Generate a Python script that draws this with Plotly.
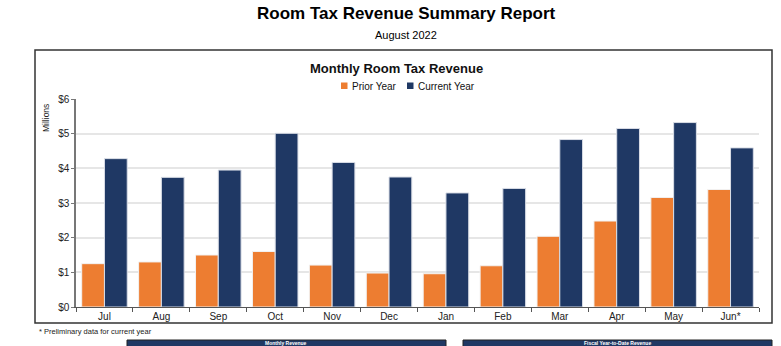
import plotly.graph_objects as go

months = ["Jul", "Aug", "Sep", "Oct", "Nov", "Dec", "Jan", "Feb", "Mar", "Apr", "May", "Jun*"]
prior_year = [1.25, 1.30, 1.50, 1.60, 1.21, 0.98, 0.96, 1.19, 2.04, 2.48, 3.16, 3.39]
current_year = [4.28, 3.74, 3.95, 5.01, 4.17, 3.75, 3.29, 3.42, 4.83, 5.15, 5.32, 4.59]
y_ticks = [0, 1, 2, 3, 4, 5, 6]
y_tick_labels = ["$0", "$1", "$2", "$3", "$4", "$5", "$6"]

ORANGE = "#ED7D31"
NAVY = "#1F3864"
FONT = "Liberation Sans, Arial, sans-serif"
W, H = 781, 346
L, R, T, B = 76, 759, 99, 307

def px(x):
    return (x - L) / (R - L)

def py(y):
    return (B - y) / (B - T)

fig = go.Figure()
fig.add_trace(go.Bar(x=months, y=prior_year, name="Prior Year",
                     marker=dict(color=ORANGE, line=dict(color="#F2F2F2", width=1))))
fig.add_trace(go.Bar(x=months, y=current_year, name="Current Year",
                     marker=dict(color=NAVY, line=dict(color="#D9DDE6", width=1))))

fig.update_layout(
    width=W, height=H,
    margin=dict(l=L, r=W - R, t=T, b=H - B),
    paper_bgcolor="white", plot_bgcolor="white",
    font=dict(family=FONT, color="#222222", size=10),
    barmode="group", bargap=0.2, bargroupgap=0,
    showlegend=False,
    xaxis=dict(showline=True, linecolor="#555555", linewidth=1, ticks="outside",
               tickson="boundaries", ticklen=4, tickcolor="#555555",
               tickfont=dict(size=10, family=FONT, color="#222222"), showgrid=False),
    yaxis=dict(range=[0, 6], tickvals=y_ticks, ticktext=y_tick_labels,
               showline=True, linecolor="#777777", linewidth=1.5, ticks="outside",
               ticklen=3, tickcolor="#777777",
               gridcolor="#E6E6E6", gridwidth=1.5,
               tickfont=dict(size=10, family=FONT, color="#222222"), zeroline=False),
)

shapes = [
    dict(type="rect", xref="paper", yref="paper", x0=px(35), x1=px(772), y0=py(50), y1=py(323),
         line=dict(color="#333333", width=1.5), fillcolor="rgba(0,0,0,0)", layer="below"),
    dict(type="rect", xref="paper", yref="paper", x0=px(127), x1=px(446), y0=py(340), y1=py(360),
         line=dict(color="#222222", width=1), fillcolor=NAVY),
    dict(type="rect", xref="paper", yref="paper", x0=px(463), x1=px(772), y0=py(340), y1=py(360),
         line=dict(color="#222222", width=1), fillcolor=NAVY),
    # legend swatches
    dict(type="rect", xref="paper", yref="paper", x0=px(341), x1=px(347.5), y0=py(89), y1=py(82.5),
         line=dict(width=0), fillcolor=ORANGE),
    dict(type="rect", xref="paper", yref="paper", x0=px(407), x1=px(413.5), y0=py(89), y1=py(82.5),
         line=dict(width=0), fillcolor=NAVY),
]
fig.update_layout(shapes=shapes)

annos = [
    dict(text="<b>Room Tax Revenue Summary Report</b>", x=px(406), y=py(14), font=dict(size=17, color="#000000")),
    dict(text="August 2022", x=px(406), y=py(35), font=dict(size=11, color="#000000")),
    dict(text="<b>Monthly Room Tax Revenue</b>", x=px(396), y=py(68), font=dict(size=13, color="#111111")),
    dict(text="Prior Year", x=px(349.5), y=py(86), xanchor="left", font=dict(size=10, color="#111111")),
    dict(text="Current Year", x=px(415.5), y=py(86), xanchor="left", font=dict(size=10, color="#111111")),
    dict(text="Millions", x=px(46), y=py(118), textangle=-90, font=dict(size=8.5, color="#222222")),
    dict(text="* Preliminary data for current year", x=px(37), y=py(331), xanchor="left",
         font=dict(size=7.5, color="#222222")),
    dict(text="<b>Monthly Revenue</b>", x=px(286), y=py(343), font=dict(size=5, color="white")),
    dict(text="<b>Fiscal Year-to-Date Revenue</b>", x=px(617), y=py(343), font=dict(size=5, color="white")),
]
for a in annos:
    a.setdefault("xanchor", "center")
    fig.add_annotation(xref="paper", yref="paper", showarrow=False, yanchor="middle",
                       font_family=FONT, **a)

fig.write_html("out.html")
